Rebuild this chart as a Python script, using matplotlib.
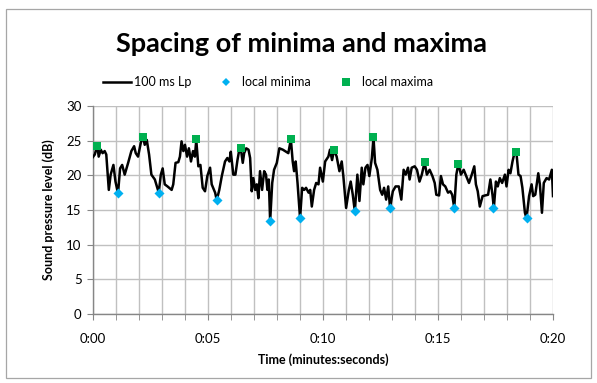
import matplotlib
matplotlib.use("Agg")
import matplotlib.pyplot as plt
from matplotlib.patches import Rectangle
from matplotlib.lines import Line2D

# ---- data (seconds, dB) ----
lp_time = [0.00, 0.09, 0.20, 0.26, 0.35, 0.43, 0.52, 0.59, 0.70, 0.78, 0.90, 0.99, 1.10, 1.19, 1.28, 1.39,
           1.54, 1.68, 1.80, 1.87, 1.97, 2.09, 2.19, 2.26, 2.35, 2.45, 2.55, 2.70, 2.87, 2.96, 3.04, 3.13,
           3.25, 3.43, 3.50, 3.60, 3.72, 3.79, 3.86, 3.94, 4.01, 4.10, 4.18, 4.27, 4.36, 4.44, 4.50, 4.59,
           4.68, 4.78, 4.88, 4.98, 5.10, 5.17, 5.32, 5.39, 5.50, 5.61, 5.75, 5.85, 5.94, 6.00, 6.11, 6.20,
           6.29, 6.38, 6.43, 6.52, 6.58, 6.67, 6.77, 6.84, 6.91, 6.98, 7.06, 7.13, 7.20, 7.27, 7.36, 7.45,
           7.53, 7.59, 7.65, 7.71, 7.80, 7.88, 8.00, 8.11, 8.26, 8.40, 8.50, 8.61, 8.69, 8.75, 8.82, 8.90,
           9.01, 9.10, 9.19, 9.27, 9.38, 9.45, 9.52, 9.62, 9.71, 9.81, 9.88, 10.00, 10.10, 10.24, 10.31,
           10.40, 10.49, 10.60, 10.72, 10.82, 10.89, 11.01, 11.13, 11.21, 11.30, 11.39, 11.50, 11.59, 11.69,
           11.76, 11.85, 11.94, 12.02, 12.13, 12.20, 12.27, 12.37, 12.49, 12.58, 12.66, 12.75, 12.84, 12.92,
           13.04, 13.16, 13.30, 13.41, 13.51, 13.60, 13.70, 13.77, 13.86, 13.99, 14.09, 14.20, 14.30, 14.42,
           14.52, 14.64, 14.76, 14.86, 14.93, 15.05, 15.13, 15.22, 15.32, 15.44, 15.54, 15.62, 15.71, 15.80,
           15.89, 16.00, 16.12, 16.23, 16.35, 16.47, 16.58, 16.65, 16.73, 16.82, 16.94, 17.05, 17.18, 17.28,
           17.37, 17.43, 17.52, 17.60, 17.69, 17.79, 17.91, 17.98, 18.07, 18.15, 18.24, 18.33, 18.41, 18.50,
           18.59, 18.67, 18.78, 18.85, 18.96, 19.07, 19.14, 19.23, 19.36, 19.43, 19.52, 19.60, 19.72, 19.83,
           19.95, 20.00]
lp_db = [22.6, 23.0, 24.3, 22.7, 23.7, 23.2, 23.5, 23.0, 17.9, 20.1, 21.5, 19.1, 17.4, 21.0, 21.5, 20.1,
         21.8, 23.5, 24.2, 23.2, 22.7, 24.7, 25.6, 24.4, 25.1, 23.0, 20.1, 19.4, 17.5, 20.1, 21.0, 18.7,
         18.4, 17.9, 18.7, 21.8, 21.9, 22.7, 24.9, 23.5, 24.4, 22.7, 23.9, 22.0, 23.5, 22.7, 25.1, 21.3,
         21.5, 18.2, 17.7, 19.9, 21.1, 18.7, 17.5, 16.4, 17.9, 19.9, 22.0, 22.5, 22.0, 23.4, 20.1, 20.1,
         22.2, 23.9, 24.0, 21.8, 23.2, 23.9, 23.7, 22.5, 17.7, 19.6, 17.9, 18.7, 16.7, 20.6, 17.9, 20.6,
         20.1, 17.9, 19.4, 13.4, 18.9, 20.8, 21.8, 23.9, 23.7, 23.4, 23.2, 25.2, 22.0, 20.6, 22.0, 18.9,
         13.8, 18.2, 17.9, 18.2, 17.5, 17.9, 15.5, 17.9, 18.9, 18.7, 21.1, 19.1, 22.0, 22.7, 23.7,
         22.2, 23.7, 22.7, 20.6, 22.0, 19.9, 15.3, 17.9, 19.1, 17.2, 14.8, 20.1, 16.3, 21.1,
         18.7, 21.1, 21.5, 19.9, 22.5, 25.5, 21.8, 20.8, 17.9, 17.2, 18.2, 16.5, 18.4, 15.3,
         17.7, 18.4, 18.4, 16.5, 20.8, 20.1, 21.1, 19.4, 21.1, 21.3, 20.8, 19.1, 20.1, 21.9,
         20.1, 20.8, 19.9, 18.9, 17.2, 17.1, 19.9, 18.7, 18.4, 17.5, 17.7, 17.2, 15.3, 20.1,
         21.7, 20.1, 20.8, 19.9, 18.9, 20.1, 21.3, 18.7, 17.7, 15.5, 17.0, 17.1, 17.2, 19.4,
         17.2, 15.3, 19.1, 18.4, 19.6, 18.9, 20.1, 18.4, 20.8, 20.3, 22.0, 23.3, 23.3, 20.1,
         19.9, 18.2, 14.6, 13.8, 17.0, 18.7, 17.0, 17.2, 20.3, 18.7, 14.6, 18.9, 19.6, 19.4,
         20.8, 17.0]

min_time = [1.1, 2.9, 5.4, 7.7, 9.0, 11.4, 12.9, 15.7, 17.4, 18.85]
min_db = [17.4, 17.4, 16.4, 13.4, 13.8, 14.8, 15.3, 15.3, 15.3, 13.8]

max_time = [0.2, 2.2, 4.5, 6.43, 8.6, 10.5, 12.2, 14.42, 15.89, 18.4]
max_db = [24.3, 25.6, 25.2, 24.0, 25.2, 23.7, 25.5, 21.9, 21.7, 23.3]

xtick_vals = [0, 5, 10, 15, 20]
xtick_labels = ["0:00", "0:05", "0:10", "0:15", "0:20"]
ytick_vals = [0, 5, 10, 15, 20, 25, 30]

title = "Spacing of minima and maxima"
series_names = ["100 ms Lp", "local minima", "local maxima"]

plt.rcParams["font.family"] = ["Lato", "DejaVu Sans"]

W, H = 597, 383
fig = plt.figure(figsize=(W / 100, H / 100), dpi=100)
fig.add_artist(Rectangle((6 / W, 1 - 378 / H), 585 / W, 369 / H, transform=fig.transFigure,
                         fill=False, edgecolor="#A6A6A6", linewidth=0.9))

ax = fig.add_axes([92.7 / W, 1 - 314 / H, (553 - 92.7) / W, (314 - 106) / H])
grid_c = "#C0C0C0"
ax.set_xlim(0, 20)
ax.set_ylim(0, 30)
ax.set_xticks(xtick_vals)
ax.set_xticklabels(xtick_labels)
ax.set_xticks(range(0, 21), minor=True)
ax.set_yticks(ytick_vals)
ax.grid(True, which="both", color=grid_c, linewidth=1.0)
ax.set_axisbelow(True)
for s in ["top", "right"]:
    ax.spines[s].set_visible(False)
for s in ["left", "bottom"]:
    ax.spines[s].set_color("#868686")
    ax.spines[s].set_linewidth(1.0)
ax.tick_params(axis="both", which="both", color="#868686", length=4, labelsize=9.5, pad=4)
ax.tick_params(axis="x", which="major", pad=10)

ax.plot(lp_time, lp_db, color="black", linewidth=1.8, zorder=3)
ax.scatter(min_time, min_db, marker="D", s=26, color="#00B0F0", zorder=4, linewidths=0)
ax.scatter(max_time, max_db, marker="s", s=40, color="#00B050", zorder=4, linewidths=0)

ax.set_xlabel("Time (minutes:seconds)", fontsize=9, fontweight="bold", labelpad=6)
ax.set_ylabel("Sound pressure level (dB)", fontsize=9, fontweight="bold", labelpad=8)

fig.text(302 / W, 1 - 44 / H, title, fontsize=19.5, fontweight="bold", ha="center", va="center")

handles = [Line2D([], [], color="black", linewidth=1.8),
           Line2D([], [], color="#00B0F0", marker="D", linestyle="none", markersize=4.5, markeredgewidth=0),
           Line2D([], [], color="#00B050", marker="s", linestyle="none", markersize=5.5, markeredgewidth=0)]
fig.legend(handles, series_names, loc="center", bbox_to_anchor=(268 / W, 1 - 82 / H), ncol=3,
           frameon=False, fontsize=9, handlelength=2.3, columnspacing=1.6, handletextpad=0.2)

fig.savefig("out.png", dpi=100)
